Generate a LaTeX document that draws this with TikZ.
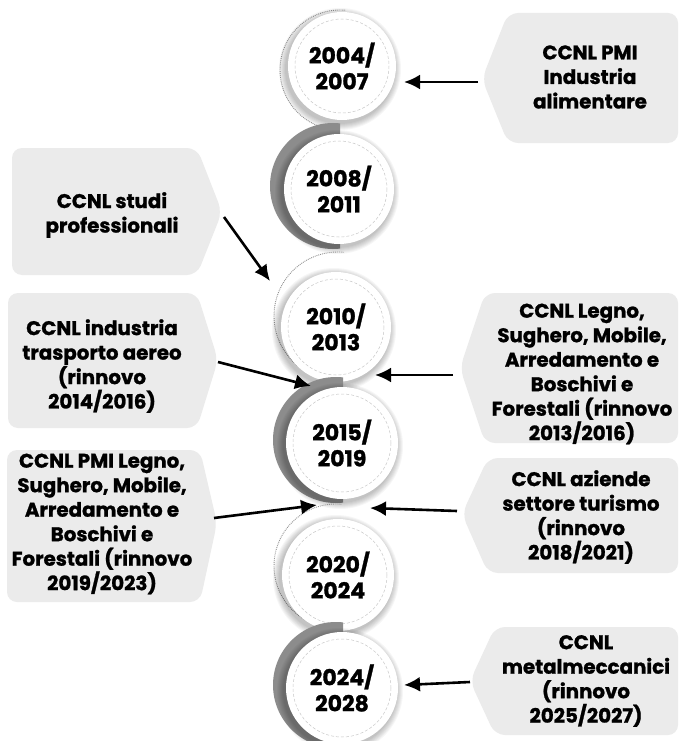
\documentclass[tikz,border=0pt]{standalone}
\usepackage{fontspec}
\setmainfont{Poppins}[BoldFeatures={FakeBold=1.2}]
\usetikzlibrary{arrows.meta}
\definecolor{boxgray}{HTML}{EBEBEB}
\definecolor{ringgray}{HTML}{8C8C8C}
\definecolor{dashgray}{HTML}{C8C8C8}
\newcommand{\rightbox}[6]{% xp yp xl top bottom right
  \fill[boxgray, rounded corners=10pt] (#1,#2) -- (#3,#4) -- (#6,#4) -- (#6,#5) -- (#3,#5) -- cycle;}
\newcommand{\leftbox}[6]{% xp yp xr top bottom left
  \fill[boxgray, rounded corners=10pt] (#1,#2) -- (#3,#5) -- (#6,#5) -- (#6,#4) -- (#3,#4) -- cycle;}
\newcommand{\yearcircle}[3]{% cx cy r
  \foreach \i in {1,...,7}{\fill[black, opacity=0.035] (#1-2,#2+3) circle[radius=#3+\i];}
  \fill[white] (#1,#2) circle[radius=#3];
  \draw[dashgray, densely dashed, line width=0.5pt] (#1,#2) circle[radius=#3-7];}
\newcommand{\grayhalf}[2]{% cx cy
  \begin{scope}
    \clip (#1-80,#2-80) rectangle (#1+1,#2+80);
    \fill[ringgray] (#1-6,#2-3) circle[radius=63];
  \end{scope}}
\newcommand{\dotarc}[3]{% cx cy r (center of arc)
  \draw[gray!85, densely dotted, line width=0.9pt] (#1,#2) ++(275:#3) arc[start angle=275, end angle=105, radius=#3];}
\begin{document}
\begin{tikzpicture}[x=1pt,y=-1pt,
  lbl/.style={font=\fontsize{19.8}{24.5}\selectfont\bfseries, align=center, text=black, inner sep=0pt},
  yr/.style={font=\fontsize{22}{26}\selectfont\bfseries, align=center, text=black, inner sep=0pt},
  conn/.style={line width=2.6pt, -{Latex[length=16pt,width=15pt]}}]
\useasboundingbox (0,0) rectangle (679,741);
\fill[white] (0,0) rectangle (679,741);

% ---- boxes ----
\rightbox{482}{79}{508}{13}{143}{678}
\leftbox{222}{212}{197}{148}{275}{12}
\leftbox{218}{360}{197}{293}{428}{8}
\rightbox{460}{368}{485}{293}{443}{678}
\leftbox{217}{523}{200}{450}{602}{7}
\rightbox{462}{514}{488}{458}{573}{678}
\rightbox{470}{681}{495}{627}{735}{678}

\node[lbl] (b1) at (590,77) {CCNL PMI\\Industria\\alimentare};
\node[lbl] (b2) at (112,215) {CCNL studi\\professionali};
\node[lbl] (b3) at (102,366) {CCNL industria\\trasporto aereo\\(rinnovo\\2014/2016)};
\node[lbl] (b4) at (582,374) {CCNL Legno,\\Sughero, Mobile,\\Arredamento e\\Boschivi e\\Forestali (rinnovo\\2013/2016)};
\node[lbl] (b5) at (102,524) {CCNL PMI Legno,\\Sughero, Mobile,\\Arredamento e\\Boschivi e\\Forestali (rinnovo\\2019/2023)};
\node[lbl] (b6) at (581,517) {CCNL aziende\\settore turismo\\(rinnovo\\2018/2021)};
\node[lbl] (b7) at (586,681) {CCNL\\metalmeccanici\\(rinnovo\\2025/2027)};

% ---- timeline circles ----
\dotarc{340}{70}{60}
\yearcircle{342}{66}{54}
\grayhalf{339}{189}
\yearcircle{339}{189}{55}
\dotarc{338}{316}{64}
\yearcircle{336}{327}{55}
\grayhalf{342}{443}
\yearcircle{342}{443}{56}
\dotarc{336}{566}{62}
\yearcircle{338}{575}{56}
\grayhalf{342}{688}
\yearcircle{342}{688}{56}

\node[yr] (c1) at (342,66) {2004/\\2007};
\node[yr] (c2) at (339,189) {2008/\\2011};
\node[yr] (c3) at (336,327) {2010/\\2013};
\node[yr] (c4) at (342,443) {2015/\\2019};
\node[yr] (c5) at (338,575) {2020/\\2024};
\node[yr] (c6) at (342,688) {2024/\\2028};

% ---- connector end points ----
\coordinate (s1) at (478,82);  \coordinate (e1) at (404,82);
\coordinate (s2) at (224,217); \coordinate (e2) at (270,281);
\coordinate (s3) at (218,362); \coordinate (e3) at (311,386);
\coordinate (s4) at (453,375); \coordinate (e4) at (375,375);
\coordinate (s5) at (214,518); \coordinate (e5) at (317,505);
\coordinate (s6) at (457,511); \coordinate (e6) at (370,508);
\coordinate (s7) at (470,682); \coordinate (e7) at (404,685);

\draw[conn] (s1) -- (e1);
\draw[conn] (s2) -- (e2);
\draw[conn] (s3) -- (e3);
\draw[conn] (s4) -- (e4);
\draw[conn] (s5) -- (e5);
\draw[conn] (s6) -- (e6);
\draw[conn] (s7) -- (e7);
\end{tikzpicture}
\end{document}
